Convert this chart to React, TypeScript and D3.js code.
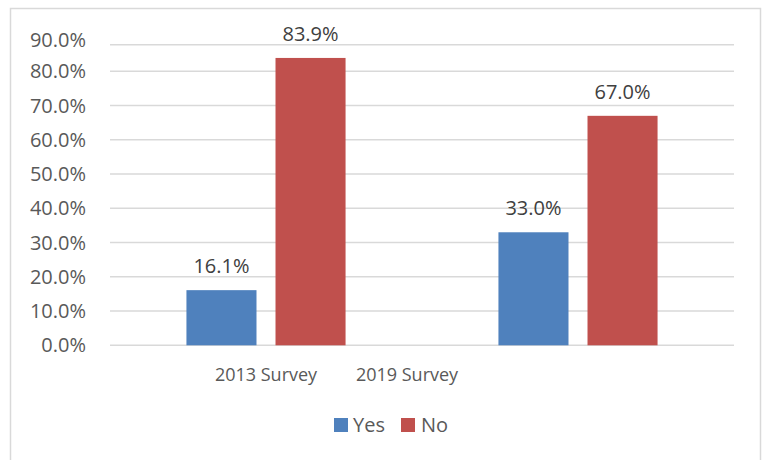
import React from "react";
import * as d3 from "d3";

const categories = ["2013 Survey", "2019 Survey"];
const seriesNames = ["Yes", "No"];
const yesValues = [0.161, 0.33];
const noValues = [0.839, 0.67];
const yTicks = [0, 0.1, 0.2, 0.3, 0.4, 0.5, 0.6, 0.7, 0.8, 0.9];
const colors = ["#4F81BD", "#C0504D"];

const W = 764;
const H = 460;
const FONT = "'Open Sans', 'Liberation Sans', sans-serif";

export default function App() {
  const y = d3.scaleLinear().domain([0, 0.8]).range([345.3, 71.3]);
  const plotTop = 44.7;
  const x0 = d3
    .scaleBand<string>()
    .domain(categories)
    .range([110, 734])
    .paddingInner(0.49)
    .paddingOuter(0.245);
  const x1 = d3
    .scaleBand<string>()
    .domain(seriesNames)
    .range([0, x0.bandwidth()])
    .paddingInner(0.2135);
  const fmt = d3.format(".1%");
  const data = categories.map((c, i) => ({ c, vals: [yesValues[i], noValues[i]] }));
  const step = x0.step();
  const labelX = [
    (x0(categories[0]) as number) + x0.bandwidth() / 2,
    (x0(categories[0]) as number) + x0.bandwidth() / 2 + step * 0.452,
  ];

  return (
    <svg
      width={W}
      height={H}
      style={{ position: "absolute", left: 0, top: 0, background: "#fff" }}
      fontFamily={FONT}
    >
      <rect x={10.5} y={8.5} width={750} height={460} fill="#fff" stroke="#D9D9D9" strokeWidth={1.5} />
      {yTicks.map((t) => {
        const ly = Math.max(y(t), plotTop);
        const ty = Math.max(y(t), 39.5);
        return (
          <g key={t}>
            <line x1={110} x2={734} y1={ly} y2={ly} stroke="#D9D9D9" strokeWidth={1.5} />
            <text x={86} y={ty} dy="0.35em" textAnchor="end" fontSize={20} fill="#595959">
              {fmt(t)}
            </text>
          </g>
        );
      })}
      {data.map((d) => (
        <g key={d.c} transform={`translate(${x0(d.c)},0)`}>
          {d.vals.map((v, j) => (
            <g key={j}>
              <rect
                x={x1(seriesNames[j])}
                y={y(v)}
                width={x1.bandwidth()}
                height={y(0) - y(v)}
                fill={colors[j]}
              />
              <text
                x={(x1(seriesNames[j]) as number) + x1.bandwidth() / 2}
                y={y(v) - 17}
                textAnchor="middle"
                fontSize={20}
                fill="#404040"
              >
                {fmt(v)}
              </text>
            </g>
          ))}
        </g>
      ))}
      {categories.map((c, i) => (
        <text key={c} x={labelX[i]} y={381} textAnchor="middle" fontSize={18} fill="#595959">
          {c}
        </text>
      ))}
      <g>
        <rect x={334} y={418} width={14} height={14} fill={colors[0]} />
        <text x={353} y={432} fontSize={20} fill="#595959">
          {seriesNames[0]}
        </text>
        <rect x={401} y={418} width={14} height={14} fill={colors[1]} />
        <text x={421} y={432} fontSize={20} fill="#595959">
          {seriesNames[1]}
        </text>
      </g>
    </svg>
  );
}
